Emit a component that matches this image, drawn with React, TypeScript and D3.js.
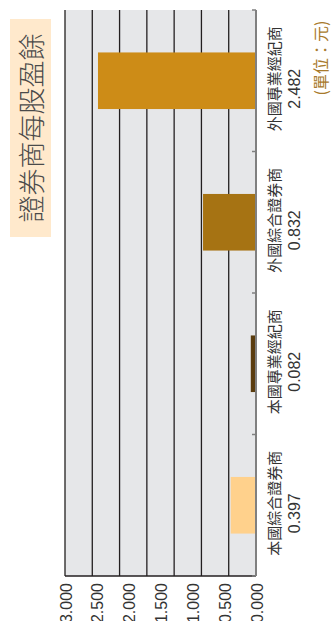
import React from "react";
import * as d3 from "d3";

const categories = ["外國專業經紀商", "外國綜合證券商", "本國專業經紀商", "本國綜合證券商"];
const values = [2.482, 0.832, 0.082, 0.397];
const valueLabels = ["2.482", "0.832", "0.082", "0.397"];
const barColors = ["#CD8C17", "#A67313", "#5A3C0E", "#FFD18C"];
const tickValues = [0, 0.5, 1, 1.5, 2, 2.5, 3];
const title = "證券商每股盈餘";
const unit = "(單位：元)";

const W = 332;
const H = 621;
const plot = { left: 65, right: 256, top: 10, bottom: 576 };
const gridCount = 7;
const latin = "'Liberation Sans', Arial, 'Noto Sans CJK TC', sans-serif";

export default function App() {
  const x = d3.scaleLinear().domain([0, 3]).range([plot.right, plot.left]);
  const y = d3
    .scaleBand<string>()
    .domain(categories)
    .range([plot.top, plot.bottom])
    .paddingInner(0.6)
    .paddingOuter(0.3);
  const step = y.step();
  const boundaries = d3.range(categories.length + 1).map((i) => plot.top + i * step);
  const grid = d3.range(gridCount + 1).map((i) => plot.left + (i * (plot.right - plot.left)) / gridCount);

  return (
    <svg
      width={W}
      height={H}
      style={{ position: "absolute", left: 0, top: 0, background: "#fff" }}
      fontFamily={latin}
    >
      {/* title box */}
      <rect x={10} y={19} width={41} height={218} fill="#FFE9CC" />
      <text
        transform={`translate(30.5,128) rotate(-90)`}
        textAnchor="middle"
        dominantBaseline="central"
        fontSize={27}
        fontWeight={300}
        fill="#4a4a4a"
        fontFamily="'Noto Sans CJK TC', sans-serif"
      >
        {title}
      </text>

      {/* plot background */}
      <rect
        x={plot.left}
        y={plot.top}
        width={plot.right - plot.left}
        height={plot.bottom - plot.top}
        fill="#E6E7E9"
      />
      {grid.map((gx, i) => (
        <line key={i} x1={gx} x2={gx} y1={plot.top} y2={plot.bottom} stroke="#231F20" strokeWidth={1.3} />
      ))}
      <line x1={plot.left} x2={plot.right} y1={plot.bottom} y2={plot.bottom} stroke="#231F20" strokeWidth={1.3} />

      {/* bars */}
      {categories.map((c, i) => (
        <rect
          key={c}
          x={x(values[i])}
          y={y(c)!}
          width={plot.right - x(values[i])}
          height={y.bandwidth()}
          fill={barColors[i]}
        />
      ))}

      {/* right axis */}
      <line x1={plot.right} x2={plot.right} y1={plot.top} y2={plot.bottom} stroke="#808080" strokeWidth={2} />
      {boundaries.map((b, i) => (
        <line key={i} x1={plot.right - 4} x2={plot.right} y1={b} y2={b} stroke="#808080" strokeWidth={1.5} />
      ))}

      {/* category labels */}
      {categories.map((c, i) => {
        const cy = y(c)! + y.bandwidth() / 2;
        return (
          <g key={c}>
            <text
              transform={`translate(273,${cy - 2}) rotate(-90)`}
              textAnchor="middle"
              dominantBaseline="central"
              fontSize={15}
              fill="#333"
              fontFamily="'Noto Sans CJK TC', sans-serif"
            >
              {c}
            </text>
            <text
              transform={`translate(294,${cy + 8}) rotate(-90)`}
              textAnchor="middle"
              dominantBaseline="central"
              fontSize={16}
              fill="#333"
            >
              {valueLabels[i]}
            </text>
          </g>
        );
      })}

      {/* value axis labels */}
      {tickValues.map((t) => (
        <text
          key={t}
          transform={`translate(${x(t) + 1},583) rotate(-90)`}
          textAnchor="end"
          dominantBaseline="central"
          fontSize={16}
          fill="#333"
        >
          {d3.format(".3f")(t)}
        </text>
      ))}

      {/* unit */}
      <text
        transform={`translate(320,58) rotate(-90)`}
        textAnchor="middle"
        dominantBaseline="central"
        fontSize={16}
        fill="#A87A2C"
        fontFamily="'Noto Sans CJK TC', sans-serif"
      >
        {unit}
      </text>
    </svg>
  );
}
